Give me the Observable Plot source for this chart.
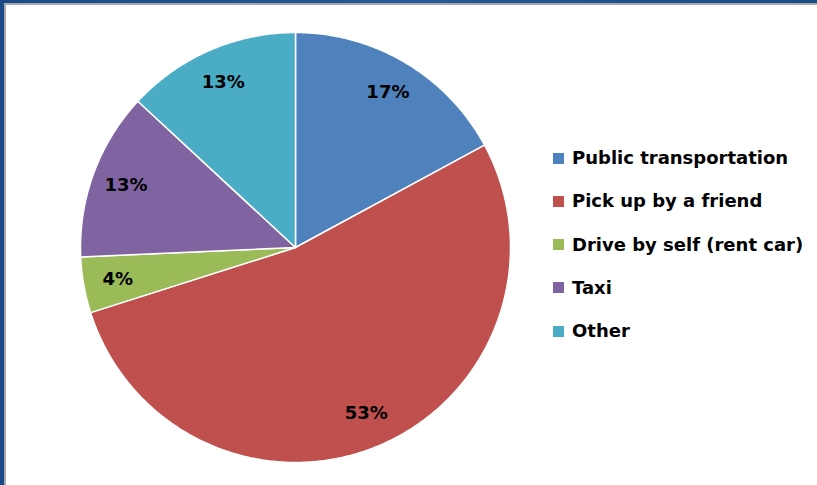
<!DOCTYPE html>
<html>
<head>
<meta charset="utf-8">
<script src="https://cdn.jsdelivr.net/npm/d3@7"></script>
<script src="https://cdn.jsdelivr.net/npm/@observablehq/plot@0.6"></script>
<style>
html, body { margin: 0; padding: 0; }
body { width: 817px; height: 485px; overflow: hidden; position: relative;
  background: linear-gradient(90deg, #1b4a89, #23599a 50%, #1b4a89); }
#frame { position: absolute; left: 4px; top: 3px; right: 0; bottom: 0; background: #fff;
  border-left: 2px solid #a8a8a8; border-top: 2px solid #a8a8a8; }
#chart { position: absolute; left: 0; top: 0; }
#legend { position: absolute; left: 0; top: 0; width: 817px; height: 485px; pointer-events: none;
  font-family: "DejaVu Sans", sans-serif; font-weight: bold; font-size: 18px; color: #000; }
.row { position: absolute; left: 553px; height: 22px; line-height: 22px; white-space: nowrap; }
.sw { display: inline-block; width: 11px; height: 11px; vertical-align: middle; margin-right: 8px; position: relative; top: -1px; }
</style>
</head>
<body>
<div id="frame"></div>
<div id="chart"></div>
<div id="legend"></div>
<script>
const categories = ["Public transportation", "Pick up by a friend", "Drive by self (rent car)", "Taxi", "Other"];
const shares = [17.1, 53.0, 4.2, 12.6, 13.1];
const labels = ["17%", "53%", "4%", "13%", "13%"];
const colors = ["#4F81BD", "#C0504D", "#9BBB59", "#8064A2", "#4BACC6"];

const data = categories.map((c, i) => ({category: c, share: shares[i], label: labels[i]}));
const arcs = d3.pie().sort(null).value(d => d.share)(data);

// polygon outline of each slice in unit-circle coordinates (geometry, not data)
const slicePts = [];
arcs.forEach(a => {
  const c = a.data.category;
  slicePts.push({category: c, x: 0, y: 0});
  const n = Math.max(2, Math.ceil((a.endAngle - a.startAngle) / (Math.PI / 360)));
  for (let k = 0; k <= n; k++) {
    const t = a.startAngle + (a.endAngle - a.startAngle) * k / n;
    slicePts.push({category: c, x: Math.sin(t), y: Math.cos(t)});
  }
  slicePts.push({category: c, x: 0, y: 0});
});

const labelPos = arcs.map(a => {
  const m = (a.startAngle + a.endAngle) / 2;
  return {label: a.data.label, x: 0.84 * Math.sin(m), y: 0.84 * Math.cos(m)};
});

const chart = Plot.plot({
  width: 817,
  height: 485,
  margin: 0,
  style: {background: "transparent"},
  x: {domain: [-1, 1], range: [80, 510], axis: null},
  y: {domain: [-1, 1], range: [462, 32], axis: null},
  color: {domain: categories, range: colors},
  marks: [
    Plot.line(slicePts, {x: "x", y: "y", z: "category", fill: "category", stroke: "white", strokeWidth: 1.5, curve: "linear"}),
    Plot.text(labelPos, {x: "x", y: "y", text: "label", fill: "#000", fontSize: 18, fontWeight: "bold", fontFamily: "DejaVu Sans"})
  ]
});
document.getElementById("chart").appendChild(chart);

const legend = document.getElementById("legend");
categories.forEach((c, i) => {
  const row = document.createElement("div");
  row.className = "row";
  row.style.top = (158 + i * 43.3 - 11) + "px";
  const sw = document.createElement("span");
  sw.className = "sw";
  sw.style.background = colors[i];
  row.appendChild(sw);
  row.appendChild(document.createTextNode(c));
  legend.appendChild(row);
});
</script>
</body>
</html>
